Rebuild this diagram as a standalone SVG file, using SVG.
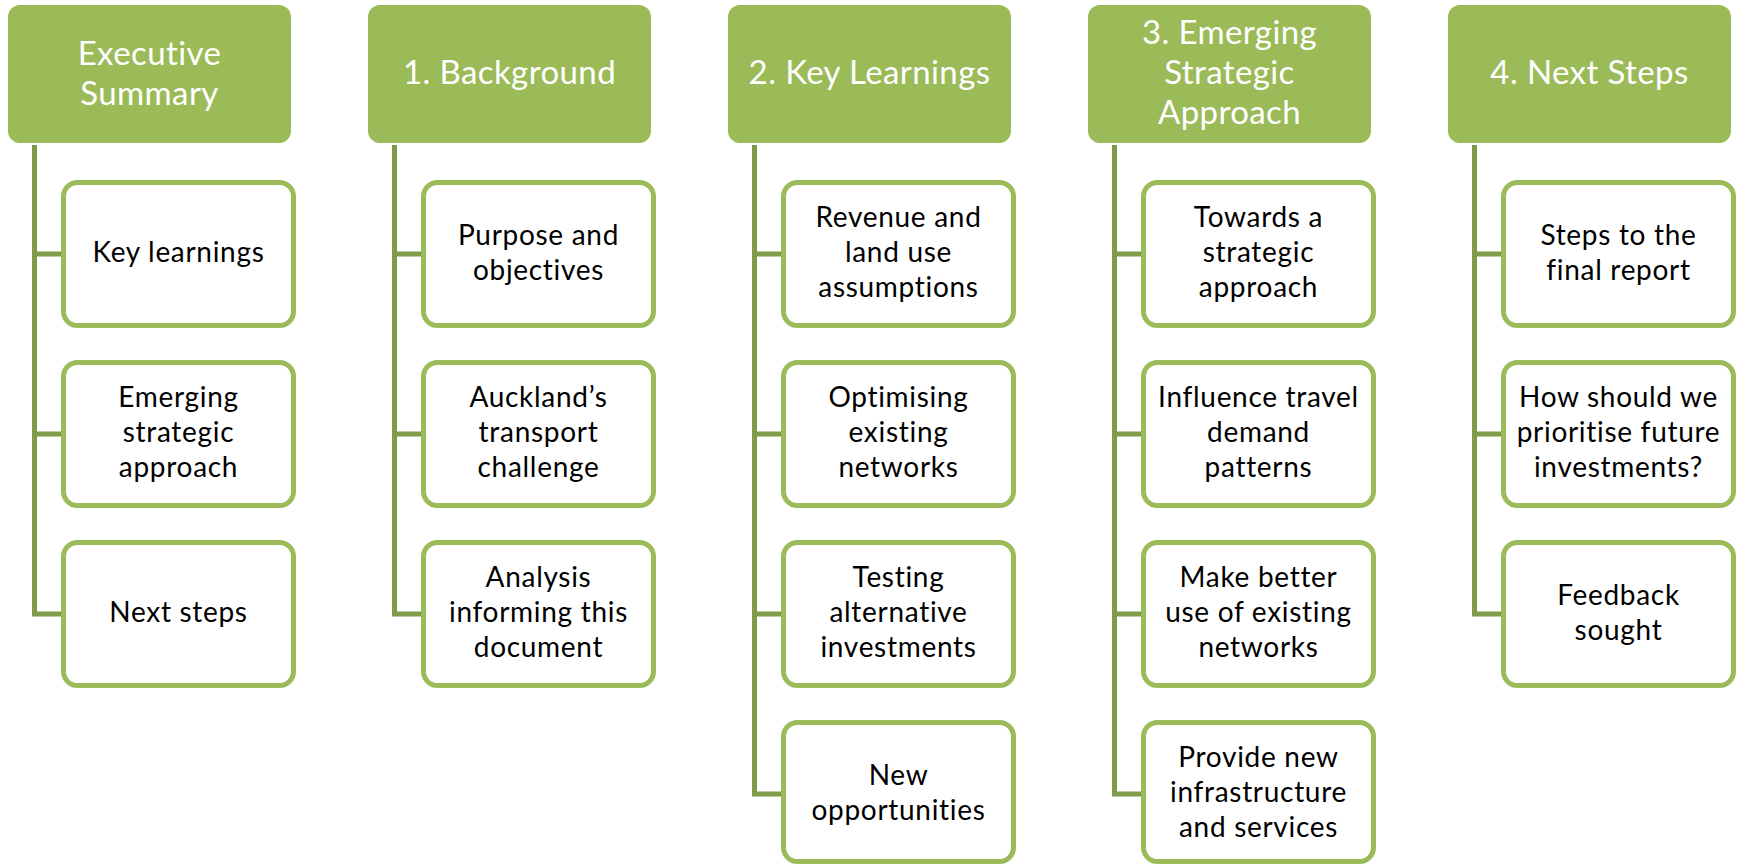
<svg xmlns="http://www.w3.org/2000/svg" width="1737" height="864" viewBox="0 0 1737 864">
<style>
.hdr{fill:#9BBB59}
.child{fill:#FFFFFF;stroke:#9BBB59;stroke-width:5}
.conn{fill:none;stroke:#7F9A48;stroke-width:5;stroke-linejoin:miter}
.ht{font-family:Lato,"Open Sans",sans-serif;font-size:33px;letter-spacing:0.4px;fill:#FFFFFF;text-anchor:middle}
.ct{font-family:Lato,"Open Sans",sans-serif;font-size:28px;letter-spacing:0.7px;fill:#000000;text-anchor:middle}
</style>
<rect width="1737" height="864" fill="#FFFFFF"/>
<g id="connectors">
<path class="conn" d="M34.5 145 V614 M32 254 H61 M32 434 H61 M32 614 H61"/>
<path class="conn" d="M394.5 145 V614 M392 254 H421 M392 434 H421 M392 614 H421"/>
<path class="conn" d="M754.5 145 V794 M752 254 H781 M752 434 H781 M752 614 H781 M752 794 H781"/>
<path class="conn" d="M1114.5 145 V794 M1112 254 H1141 M1112 434 H1141 M1112 614 H1141 M1112 794 H1141"/>
<path class="conn" d="M1474.5 145 V614 M1472 254 H1501 M1472 434 H1501 M1472 614 H1501"/>
</g>
<g id="h0"><rect class="hdr" x="8" y="5" width="283" height="138" rx="12"/><text class="ht" x="149.5"><tspan x="149.5" y="65">Executive</tspan><tspan x="149.5" y="105">Summary</tspan></text></g>
<g id="c0a"><rect class="child" x="63.5" y="182.5" width="230" height="143" rx="14"/><text class="ct" x="178.5" y="262">Key learnings</text></g>
<g id="c0b"><rect class="child" x="63.5" y="362.5" width="230" height="143" rx="14"/><text class="ct"><tspan x="178.5" y="407">Emerging</tspan><tspan x="178.5" y="442">strategic</tspan><tspan x="178.5" y="477">approach</tspan></text></g>
<g id="c0c"><rect class="child" x="63.5" y="542.5" width="230" height="143" rx="14"/><text class="ct" x="178.5" y="622">Next steps</text></g>

<g id="h1"><rect class="hdr" x="368" y="5" width="283" height="138" rx="12"/><text class="ht" x="509.5" y="84">1. Background</text></g>
<g id="c1a"><rect class="child" x="423.5" y="182.5" width="230" height="143" rx="14"/><text class="ct"><tspan x="538.5" y="244.5">Purpose and</tspan><tspan x="538.5" y="279.5">objectives</tspan></text></g>
<g id="c1b"><rect class="child" x="423.5" y="362.5" width="230" height="143" rx="14"/><text class="ct"><tspan x="538.5" y="407">Auckland’s</tspan><tspan x="538.5" y="442">transport</tspan><tspan x="538.5" y="477">challenge</tspan></text></g>
<g id="c1c"><rect class="child" x="423.5" y="542.5" width="230" height="143" rx="14"/><text class="ct"><tspan x="538.5" y="587">Analysis</tspan><tspan x="538.5" y="622">informing this</tspan><tspan x="538.5" y="657">document</tspan></text></g>

<g id="h2"><rect class="hdr" x="728" y="5" width="283" height="138" rx="12"/><text class="ht" x="869.5" y="84">2. Key Learnings</text></g>
<g id="c2a"><rect class="child" x="783.5" y="182.5" width="230" height="143" rx="14"/><text class="ct"><tspan x="898.5" y="227">Revenue and</tspan><tspan x="898.5" y="262">land use</tspan><tspan x="898.5" y="297">assumptions</tspan></text></g>
<g id="c2b"><rect class="child" x="783.5" y="362.5" width="230" height="143" rx="14"/><text class="ct"><tspan x="898.5" y="407">Optimising</tspan><tspan x="898.5" y="442">existing</tspan><tspan x="898.5" y="477">networks</tspan></text></g>
<g id="c2c"><rect class="child" x="783.5" y="542.5" width="230" height="143" rx="14"/><text class="ct"><tspan x="898.5" y="587">Testing</tspan><tspan x="898.5" y="622">alternative</tspan><tspan x="898.5" y="657">investments</tspan></text></g>
<g id="c2d"><rect class="child" x="783.5" y="722.5" width="230" height="139" rx="14"/><text class="ct"><tspan x="898.5" y="784.5">New</tspan><tspan x="898.5" y="819.5">opportunities</tspan></text></g>

<g id="h3"><rect class="hdr" x="1088" y="5" width="283" height="138" rx="12"/><text class="ht"><tspan x="1229.5" y="44">3. Emerging</tspan><tspan x="1229.5" y="84">Strategic</tspan><tspan x="1229.5" y="124">Approach</tspan></text></g>
<g id="c3a"><rect class="child" x="1143.5" y="182.5" width="230" height="143" rx="14"/><text class="ct"><tspan x="1258.5" y="227">Towards a</tspan><tspan x="1258.5" y="262">strategic</tspan><tspan x="1258.5" y="297">approach</tspan></text></g>
<g id="c3b"><rect class="child" x="1143.5" y="362.5" width="230" height="143" rx="14"/><text class="ct"><tspan x="1258.5" y="407">Influence travel</tspan><tspan x="1258.5" y="442">demand</tspan><tspan x="1258.5" y="477">patterns</tspan></text></g>
<g id="c3c"><rect class="child" x="1143.5" y="542.5" width="230" height="143" rx="14"/><text class="ct"><tspan x="1258.5" y="587">Make better</tspan><tspan x="1258.5" y="622">use of existing</tspan><tspan x="1258.5" y="657">networks</tspan></text></g>
<g id="c3d"><rect class="child" x="1143.5" y="722.5" width="230" height="139" rx="14"/><text class="ct"><tspan x="1258.5" y="767">Provide new</tspan><tspan x="1258.5" y="802">infrastructure</tspan><tspan x="1258.5" y="837">and services</tspan></text></g>

<g id="h4"><rect class="hdr" x="1448" y="5" width="283" height="138" rx="12"/><text class="ht" x="1589.5" y="84">4. Next Steps</text></g>
<g id="c4a"><rect class="child" x="1503.5" y="182.5" width="230" height="143" rx="14"/><text class="ct"><tspan x="1618.5" y="244.5">Steps to the</tspan><tspan x="1618.5" y="279.5">final report</tspan></text></g>
<g id="c4b"><rect class="child" x="1503.5" y="362.5" width="230" height="143" rx="14"/><text class="ct"><tspan x="1618.5" y="407">How should we</tspan><tspan x="1618.5" y="442">prioritise future</tspan><tspan x="1618.5" y="477">investments?</tspan></text></g>
<g id="c4c"><rect class="child" x="1503.5" y="542.5" width="230" height="143" rx="14"/><text class="ct"><tspan x="1618.5" y="604.5">Feedback</tspan><tspan x="1618.5" y="639.5">sought</tspan></text></g>
</svg>
